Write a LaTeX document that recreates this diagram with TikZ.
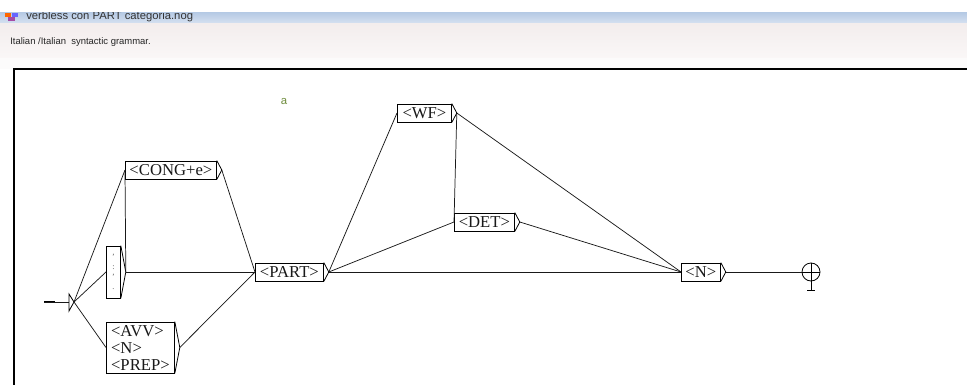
\documentclass[tikz,border=0pt]{standalone}
\usepackage{fontspec}
\setmainfont{Liberation Serif}
\newfontfamily\uisans{Liberation Sans}
\definecolor{bartop}{RGB}{183,203,229}
\definecolor{barbot}{RGB}{216,226,241}
\definecolor{bandtop}{RGB}{243,237,237}
\definecolor{bandbot}{RGB}{250,247,247}
\definecolor{gapcol}{RGB}{252,251,251}
\definecolor{agreen}{RGB}{110,140,60}
\definecolor{ink}{RGB}{25,25,25}
\newcommand\outtip[1]{%
  \path (#1.east) ++(5,0) coordinate (#1o);
  \draw[brk] (#1.north east) -- (#1o) -- (#1.south east);}
\begin{document}
\begin{tikzpicture}[x=0.75pt,y=-0.75pt,
  lbox/.style={draw=black, line width=0.6pt, rectangle, anchor=west,
    inner xsep=0pt, inner ysep=0pt, minimum height=13.5pt,
    font=\fontsize{12.5}{12.75}\selectfont, text=ink},
  conn/.style={draw=ink, line width=0.55pt},
  brk/.style={draw=black, line width=0.6pt},
]
\useasboundingbox (0,0) rectangle (967,385);
\fill[white] (0,0) rectangle (967,385);
% window chrome
\shade[top color=bartop, bottom color=barbot] (0,13) rectangle (967,24);
\shade[top color=bandtop, bottom color=bandbot] (0,24) rectangle (967,58);
\fill[gapcol] (0,58) rectangle (967,69);
\begin{scope}
  \clip (0,13) rectangle (967,24);
  \fill[orange!80!red] (5,13) rectangle (11,17);
  \fill[blue!60] (12,13) rectangle (18,17);
  \fill[violet!70] (8,17) rectangle (15,21);
  \node[anchor=base west, inner sep=0pt, font=\uisans\fontsize{8.45}{10}\selectfont, text=black!80] (title) at (26,20) {verbless con PART categoria.nog};
\end{scope}
\node[anchor=base west, inner sep=0pt, font=\uisans\fontsize{7.1}{9}\selectfont, text=black!85] (desc) at (10,45) {Italian /Italian\ \ syntactic grammar.};
% frame
\draw[line width=1.5pt] (13.5,385) -- (13.5,69.5) -- (967,69.5);
% comment text
\node[inner sep=0pt, font=\uisans\fontsize{8.5}{9}\selectfont, text=agreen] (acomment) at (284,102) {a};

% boxes
\node[lbox, minimum width=68.25pt] (cong) at (125,170) {<CONG+e>};
\node[lbox, minimum width=10.5pt, minimum height=39pt, align=center,
      font=\fontsize{6}{7.5}\selectfont, text=black!70] (colon) at (106,272) {'\\:\\'\\.};
\node[lbox, minimum width=51pt, minimum height=38.25pt, align=left,
      inner xsep=2pt] (avv) at (106,347.5) {<AVV>\\<N>\\<PREP>};
\node[lbox, minimum width=51pt] (part) at (255,272) {<PART>};
\node[lbox, minimum width=40.5pt] (wf) at (397,113) {<WF>};
\node[lbox, minimum width=45pt] (det) at (454,222) {<DET>};
\node[lbox, minimum width=29.25pt] (n) at (681,272) {<N>};
\node[circle, draw=black, line width=0.6pt, minimum size=13.5pt, inner sep=0pt] (final) at (811,272) {};

\outtip{cong}
\outtip{colon}
\outtip{avv}
\outtip{part}
\outtip{wf}
\outtip{det}
\outtip{n}

% initial state
\coordinate (init) at (74,302);
\coordinate (start) at (44,302);
\draw[line width=1.5pt] (start) -- ++(11,0);
\draw[conn] (start) -- ++(25,0);
\draw[brk] (init) -- ++(-5,-8) -- ++(0,17) -- cycle;

% final state decorations
\draw[brk] (final.west) -- (final.east);
\draw[brk] (final.north) -- ++(0,27);
\draw[brk] (final.south) ++(-4,9) -- ++(8,0);

% connectors
\draw[conn] (init) -- (cong.west);
\draw[conn] (init) -- (colon.west);
\draw[conn] (init) -- (avv.west);
\draw[conn] (colono) -- (cong.west);
\draw[conn] (colono) -- (part.west);
\draw[conn] (congo) -- (part.west);
\draw[conn] (avvo) -- (part.west);
\draw[conn] (parto) -- (wf.west);
\draw[conn] (parto) -- (det.west);
\draw[conn] (parto) -- (n.west);
\draw[conn] (wfo) -- (det.west);
\draw[conn] (wfo) -- (n.west);
\draw[conn] (deto) -- (n.west);
\draw[conn] (no) -- (final.west);
\end{tikzpicture}
\end{document}
